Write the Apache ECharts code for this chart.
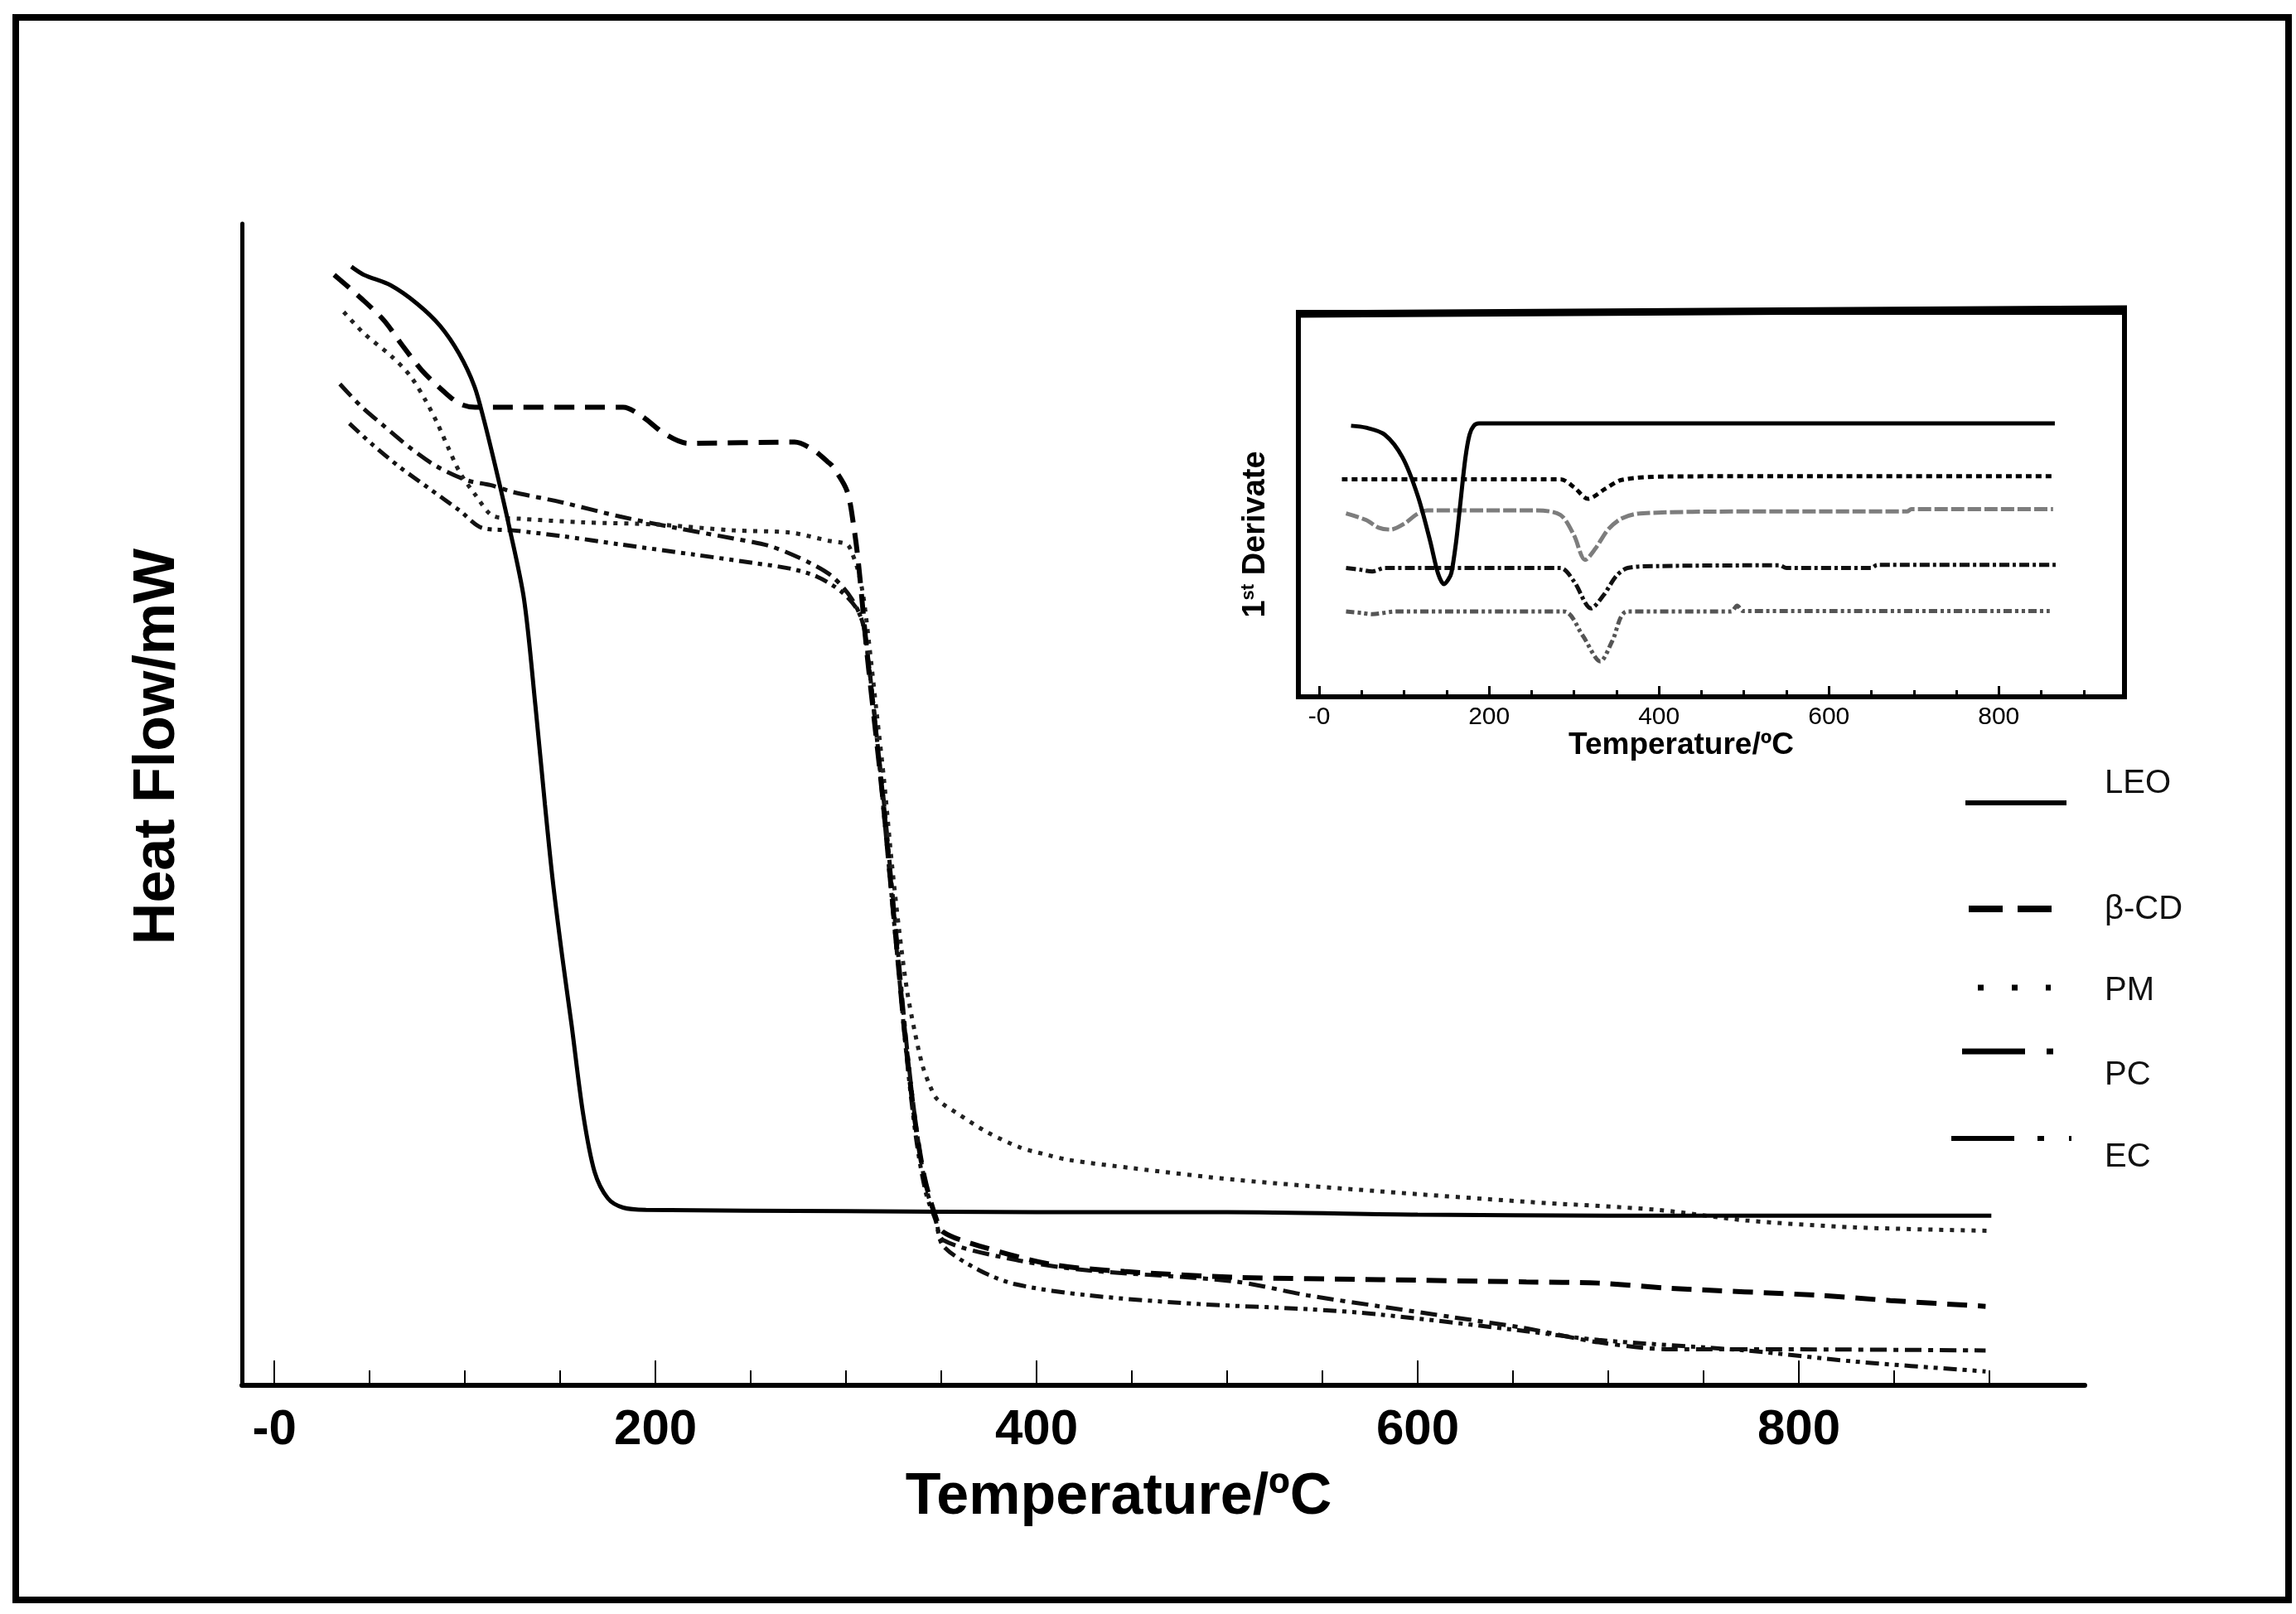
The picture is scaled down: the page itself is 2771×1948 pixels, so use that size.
<!DOCTYPE html>
<html>
<head>
<meta charset="utf-8">
<script src="https://cdn.jsdelivr.net/npm/echarts@6.0.0/dist/echarts.min.js"></script>
<style>
  html, body {margin:0;padding:0;background:#ffffff;}
  #chart {width:2771px;height:1948px;}
</style>
</head>
<body>
<div id="chart"></div>
<script>
    // main TGA curves: temperature (°C) / heat flow (arbitrary, 0-100 of axis height)
    var leoTemp = [40.4, 47, 61, 75, 87, 97, 105, 110, 117, 123, 131, 137, 142, 146, 151, 156, 162, 168, 175, 183, 195, 300, 400, 500, 600, 700, 800, 901];
    var leoHeat = [96.3, 95.6, 94.7, 93.1, 91.2, 88.8, 86.0, 83.1, 78.4, 74.1, 67.7, 58.5, 50, 43.6, 37, 31, 23.4, 18.4, 16.1, 15.3, 15.1, 15.0, 14.9, 14.9, 14.7, 14.6, 14.6, 14.6];

    var cdTemp = [31.4, 45.4, 57.4, 67.3, 77.3, 89.3, 97.3, 105.3, 183, 193, 205, 217, 273, 283, 290.4, 293, 300.5, 304, 306.5, 309, 311, 315, 319, 323, 327, 331, 336, 341, 347, 351, 370, 408, 446, 504, 580, 657, 695, 733, 810, 848, 898];
    var cdHeat = [95.6, 93.6, 91.7, 89.5, 87.4, 85.5, 84.5, 84.2, 84.2, 83.4, 81.9, 81.1, 81.2, 80.5, 79.5, 79.1, 77, 74, 70.8, 66.5, 63, 57, 51, 44, 37, 30, 23, 18, 14.5, 13.2, 12.0, 10.4, 9.8, 9.3, 9.1, 8.9, 8.8, 8.35, 7.75, 7.3, 6.8];

    var pmTemp = [36.4, 47.4, 61.4, 71.3, 79.3, 85.3, 91.3, 97.3, 105.3, 115.3, 129, 161, 201, 241, 271, 291, 300.5, 303, 306, 309, 312, 316, 320, 324, 328, 332, 336, 340, 344, 348, 358.5, 374, 391, 404, 417, 450, 504, 580, 657, 726, 772, 829, 900];
    var pmHeat = [92.4, 90.5, 88.6, 86.9, 84.8, 82.9, 80.7, 78.6, 76.7, 74.8, 74.6, 74.3, 74.1, 73.6, 73.4, 72.7, 72.4, 71.7, 70.3, 68, 64, 58, 52, 45, 39, 34, 30.5, 27.6, 25.8, 24.6, 23.4, 21.8, 20.5, 19.9, 19.4, 18.7, 17.7, 16.7, 15.8, 15.1, 14.2, 13.6, 13.3];

    var pcTemp = [34.4, 45.4, 57.4, 71.3, 85.3, 101.3, 113.3, 125.2, 151.2, 181.1, 211.1, 241, 261, 281, 293, 303, 309, 312, 316, 320, 324, 328, 332, 337, 342, 347, 351, 389, 427, 504, 542, 580, 619, 657, 695, 733, 791, 898];
    var pcHeat = [86.2, 84.3, 82.6, 80.7, 79.1, 77.9, 77.5, 76.9, 76.0, 74.8, 73.8, 72.9, 72.2, 70.8, 69.6, 67.7, 65.5, 62, 56, 50, 43, 36, 29, 22, 17, 14.5, 12.5, 10.8, 9.9, 8.94, 7.75, 6.8, 5.85, 4.9, 3.7, 3.1, 3.1, 3.0];

    var ecTemp = [39.4, 51.4, 65.4, 81.3, 97.3, 109.3, 125.2, 151.2, 181.1, 221, 251, 271, 285, 297, 305, 309, 312, 316, 320, 324, 328, 332, 337, 342, 347, 351, 370, 389, 427, 485, 542, 580, 657, 695, 772, 829, 898];
    var ecHeat = [82.8, 81.0, 79.1, 77.2, 75.3, 73.8, 73.6, 73.1, 72.4, 71.5, 70.8, 70.3, 69.6, 68.4, 67.0, 65.5, 62, 56, 49, 42, 35, 28, 21, 16.5, 14.2, 12.0, 9.9, 8.7, 7.75, 7.0, 6.56, 6.1, 4.66, 3.9, 3.0, 2.05, 1.2];

    // inset: 1st derivate curves (arbitrary offsets, 0-100 of inset height)
    var dLeoTemp = [37.5, 55, 77, 98, 116, 130.5, 140, 147, 152, 155.6, 161, 166.3, 172, 177, 182, 188, 866];
    var dLeoVal = [70.5, 70, 68.2, 62.3, 52.3, 40.6, 32, 29.3, 30.5, 32.2, 40, 50.6, 62, 68.2, 70.5, 71.1, 71.1];

    var dCdTemp = [26.7, 150, 284, 300, 316.6, 336, 356, 406, 600, 866];
    var dCdVal = [56.6, 56.6, 56.6, 54.5, 51.5, 54, 56.4, 57.3, 57.4, 57.4];

    var dPmTemp = [31.6, 55, 70, 84, 100, 115, 127, 255.7, 284, 300, 313, 325, 340, 356, 377.5, 500, 692, 697, 864];
    var dPmVal = [47.7, 46, 44, 43.5, 45, 47.5, 48.5, 48.5, 47.3, 42, 35.6, 38.5, 43.5, 46.4, 47.7, 48.2, 48.2, 48.8, 48.8];

    var dPcTemp = [31.6, 50, 62.5, 77, 284, 300, 320, 335, 350, 363, 399, 542, 550, 649.5, 657, 871];
    var dPcVal = [33.5, 33, 32.6, 33.5, 33.5, 30, 23.0, 26.5, 31.5, 33.5, 34, 34.2, 33.5, 33.5, 34.3, 34.3];

    var dEcTemp = [31.6, 50, 62.5, 91, 288, 310, 331, 345, 363, 485, 492, 499, 860];
    var dEcVal = [22.2, 21.8, 21.5, 22.2, 22.2, 16, 9.2, 14.5, 22.2, 22.2, 23.7, 22.3, 22.3];

    // ticks
    var majorTicks = [0, 200, 400, 600, 800];
    var majorTickLabels = ['-0', '200', '400', '600', '800'];
    var minorTicks = [50, 100, 150, 250, 300, 350, 450, 500, 550, 650, 700, 750, 850, 900];

    var seriesNames = ['LEO', 'β-CD', 'PM', 'PC', 'EC'];

    function zip(xs, ys) {
        var out = [];
        for (var i = 0; i < xs.length; i++) {
            out.push([xs[i], ys[i]]);
        }
        return out;
    }

    function tickLabel(value) {
        var i = majorTicks.indexOf(value);
        return i >= 0 ? majorTickLabels[i] : '';
    }

    var FONT = 'Arial, "Liberation Sans", sans-serif';

    var mainStyles = [
        {color: '#000', width: 5, type: 'solid'},
        {color: '#000', width: 6, type: [24, 13]},
        {color: '#222', width: 5, type: [5, 8]},
        {color: '#111', width: 5, type: [20, 8, 6, 8]},
        {color: '#111', width: 5, type: [16, 7, 5, 7, 5, 7]}
    ];
    var insetStyles = [
        {color: '#000', width: 5, type: 'solid'},
        {color: '#000', width: 5, type: [7, 5]},
        {color: '#7d7d7d', width: 5, type: [16, 4]},
        {color: '#111', width: 5, type: [12, 4, 4, 4]},
        {color: '#555', width: 5, type: [10, 4, 4, 4, 4, 4]}
    ];

    var mainData = [
        zip(leoTemp, leoHeat), zip(cdTemp, cdHeat), zip(pmTemp, pmHeat),
        zip(pcTemp, pcHeat), zip(ecTemp, ecHeat)
    ];
    var insetData = [
        zip(dLeoTemp, dLeoVal), zip(dCdTemp, dCdVal), zip(dPmTemp, dPmVal),
        zip(dPcTemp, dPcVal), zip(dEcTemp, dEcVal)
    ];

    var series = [];
    for (var s = 0; s < seriesNames.length; s++) {
        series.push({
            name: seriesNames[s],
            type: 'line',
            xAxisIndex: 0,
            yAxisIndex: 0,
            data: mainData[s],
            symbol: 'none',
            smooth: 0.3,
            lineStyle: mainStyles[s],
            z: 5 - s
        });
        series.push({
            name: seriesNames[s] + ' (1st derivate)',
            type: 'line',
            xAxisIndex: 2,
            yAxisIndex: 1,
            data: insetData[s],
            symbol: 'none',
            smooth: 0.3,
            lineStyle: insetStyles[s],
            z: 5 - s
        });
    }

    function xAxisPair(gridIndex, min, max, lineWidth, majorLen, minorLen, tickWidth, labelFont, labelWeight, margin) {
        return [{
            type: 'value',
            gridIndex: gridIndex,
            position: 'bottom',
            min: min,
            max: max,
            axisLine: {show: true, onZero: false, lineStyle: {color: '#000', width: lineWidth}},
            axisTick: {show: true, inside: true, length: majorLen, customValues: majorTicks,
                lineStyle: {color: '#000', width: tickWidth}},
            axisLabel: {show: true, customValues: majorTicks, formatter: tickLabel, margin: margin,
                color: '#000', fontSize: labelFont, fontWeight: labelWeight, fontFamily: FONT},
            splitLine: {show: false}
        }, {
            type: 'value',
            gridIndex: gridIndex,
            position: 'bottom',
            min: min,
            max: max,
            axisLine: {show: false, onZero: false},
            axisTick: {show: true, inside: true, length: minorLen, customValues: minorTicks,
                lineStyle: {color: '#000', width: tickWidth}},
            axisLabel: {show: false},
            splitLine: {show: false}
        }];
    }

    var xAxes = xAxisPair(0, -17, 950, 6, 30, 18, 2, 60, 'bold', 24)
        .concat(xAxisPair(1, -24.5, 948, 5, 13, 8, 3, 30, 'normal', 10));

    var legendRows = [
        {y: 969, x1: 2372, x2: 2494, dash: null, width: 6, textY: 946},
        {y: 1097, x1: 2376, x2: 2480, dash: [41, 18], width: 8, textY: 1098},
        {y: 1192, x1: 2387, x2: 2475, dash: [7, 34], width: 7, textY: 1196},
        {y: 1269, x1: 2368, x2: 2480, dash: [76, 26, 8, 100], width: 7, textY: 1298},
        {y: 1374, x1: 2355, x2: 2500, dash: [76, 28, 8, 30, 4, 100], width: 6, textY: 1397}
    ];

    var graphics = [{
        type: 'rect',
        shape: {x: 19, y: 21, width: 2743, height: 1910},
        style: {fill: 'none', stroke: '#000', lineWidth: 8},
        silent: true
    }, {
        type: 'text',
        x: 191, y: 901,
        rotation: Math.PI / 2,
        style: {text: 'Heat Flow/mW', font: 'bold 70px ' + FONT, fill: '#000',
            align: 'center', verticalAlign: 'middle'}
    }, {
        type: 'text',
        x: 1350, y: 1808,
        style: {text: 'Temperature/ºC', font: 'bold 70px ' + FONT, fill: '#000',
            align: 'center', verticalAlign: 'middle'}
    }, {
        type: 'text',
        x: 2029, y: 900,
        style: {text: 'Temperature/ºC', font: 'bold 37px ' + FONT, fill: '#000',
            align: 'center', verticalAlign: 'middle'}
    }, {
        type: 'text',
        x: 1516, y: 645,
        rotation: Math.PI / 2,
        style: {
            text: '{a|1}{b|st}{a| Derivate}',
            align: 'center', verticalAlign: 'middle',
            rich: {
                a: {fontSize: 38, fontWeight: 'bold', fontFamily: FONT, fill: '#000', lineHeight: 40},
                b: {fontSize: 22, fontWeight: 'bold', fontFamily: FONT, fill: '#000', verticalAlign: 'top', lineHeight: 40}
            }
        }
    }, {
        // thicker top edge of the inset frame
        type: 'line',
        shape: {x1: 1564, y1: 379, x2: 2567, y2: 373},
        style: {stroke: '#000', lineWidth: 9},
        silent: true
    }];

    for (var r = 0; r < legendRows.length; r++) {
        var row = legendRows[r];
        graphics.push({
            type: 'line',
            shape: {x1: row.x1, y1: row.y, x2: row.x2, y2: row.y},
            style: {stroke: '#000', lineWidth: row.width, lineDash: row.dash},
            silent: true
        });
        graphics.push({
            type: 'text',
            x: 2540, y: row.textY,
            style: {text: seriesNames[r], font: '40px ' + FONT, fill: '#111',
                align: 'left', verticalAlign: 'middle'}
        });
    }

    var myChart = echarts.init(document.getElementById('chart'));
    var option = {
        animation: false,
        backgroundColor: '#ffffff',
        grid: [
            {left: 292, top: 270, width: 2224, height: 1402, outerBoundsMode: 'none', containLabel: false},
            {left: 1567, top: 377, width: 997, height: 464, outerBoundsMode: 'none', containLabel: false,
                show: true, borderColor: '#000', borderWidth: 6, backgroundColor: 'transparent'}
        ],
        xAxis: xAxes,
        yAxis: [{
            type: 'value',
            gridIndex: 0,
            min: 0,
            max: 100,
            axisLine: {show: true, onZero: false, lineStyle: {color: '#000', width: 5}},
            axisTick: {show: false},
            axisLabel: {show: false},
            splitLine: {show: false}
        }, {
            type: 'value',
            gridIndex: 1,
            min: 0,
            max: 100,
            axisLine: {show: true, onZero: false, lineStyle: {color: '#000', width: 5}},
            axisTick: {show: false},
            axisLabel: {show: false},
            splitLine: {show: false}
        }],
        series: series,
        graphic: graphics
    };
    myChart.setOption(option, true);
</script>
</body>
</html>
